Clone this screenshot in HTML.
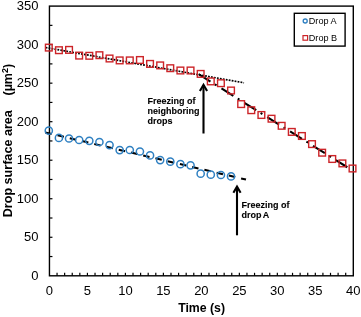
<!DOCTYPE html><html><head><meta charset="utf-8"><style>html,body{margin:0;padding:0;background:#fff;width:361px;height:317px;overflow:hidden}svg{display:block;will-change:transform;font-family:"Liberation Sans",sans-serif}</style></head><body>
<svg width="361" height="317" viewBox="0 0 361 317">
<line x1="57.05" y1="275.80" x2="57.05" y2="272.80" stroke="#000" stroke-width="1.2"/>
<line x1="64.64" y1="275.80" x2="64.64" y2="272.80" stroke="#000" stroke-width="1.2"/>
<line x1="72.24" y1="275.80" x2="72.24" y2="272.80" stroke="#000" stroke-width="1.2"/>
<line x1="79.84" y1="275.80" x2="79.84" y2="272.80" stroke="#000" stroke-width="1.2"/>
<line x1="87.43" y1="275.80" x2="87.43" y2="272.80" stroke="#000" stroke-width="1.2"/>
<line x1="95.03" y1="275.80" x2="95.03" y2="272.80" stroke="#000" stroke-width="1.2"/>
<line x1="102.62" y1="275.80" x2="102.62" y2="272.80" stroke="#000" stroke-width="1.2"/>
<line x1="110.22" y1="275.80" x2="110.22" y2="272.80" stroke="#000" stroke-width="1.2"/>
<line x1="117.82" y1="275.80" x2="117.82" y2="272.80" stroke="#000" stroke-width="1.2"/>
<line x1="125.41" y1="275.80" x2="125.41" y2="272.80" stroke="#000" stroke-width="1.2"/>
<line x1="133.01" y1="275.80" x2="133.01" y2="272.80" stroke="#000" stroke-width="1.2"/>
<line x1="140.61" y1="275.80" x2="140.61" y2="272.80" stroke="#000" stroke-width="1.2"/>
<line x1="148.20" y1="275.80" x2="148.20" y2="272.80" stroke="#000" stroke-width="1.2"/>
<line x1="155.80" y1="275.80" x2="155.80" y2="272.80" stroke="#000" stroke-width="1.2"/>
<line x1="163.39" y1="275.80" x2="163.39" y2="272.80" stroke="#000" stroke-width="1.2"/>
<line x1="170.99" y1="275.80" x2="170.99" y2="272.80" stroke="#000" stroke-width="1.2"/>
<line x1="178.59" y1="275.80" x2="178.59" y2="272.80" stroke="#000" stroke-width="1.2"/>
<line x1="186.18" y1="275.80" x2="186.18" y2="272.80" stroke="#000" stroke-width="1.2"/>
<line x1="193.78" y1="275.80" x2="193.78" y2="272.80" stroke="#000" stroke-width="1.2"/>
<line x1="201.38" y1="275.80" x2="201.38" y2="272.80" stroke="#000" stroke-width="1.2"/>
<line x1="208.97" y1="275.80" x2="208.97" y2="272.80" stroke="#000" stroke-width="1.2"/>
<line x1="216.57" y1="275.80" x2="216.57" y2="272.80" stroke="#000" stroke-width="1.2"/>
<line x1="224.16" y1="275.80" x2="224.16" y2="272.80" stroke="#000" stroke-width="1.2"/>
<line x1="231.76" y1="275.80" x2="231.76" y2="272.80" stroke="#000" stroke-width="1.2"/>
<line x1="239.36" y1="275.80" x2="239.36" y2="272.80" stroke="#000" stroke-width="1.2"/>
<line x1="246.95" y1="275.80" x2="246.95" y2="272.80" stroke="#000" stroke-width="1.2"/>
<line x1="254.55" y1="275.80" x2="254.55" y2="272.80" stroke="#000" stroke-width="1.2"/>
<line x1="262.15" y1="275.80" x2="262.15" y2="272.80" stroke="#000" stroke-width="1.2"/>
<line x1="269.74" y1="275.80" x2="269.74" y2="272.80" stroke="#000" stroke-width="1.2"/>
<line x1="277.34" y1="275.80" x2="277.34" y2="272.80" stroke="#000" stroke-width="1.2"/>
<line x1="284.93" y1="275.80" x2="284.93" y2="272.80" stroke="#000" stroke-width="1.2"/>
<line x1="292.53" y1="275.80" x2="292.53" y2="272.80" stroke="#000" stroke-width="1.2"/>
<line x1="300.13" y1="275.80" x2="300.13" y2="272.80" stroke="#000" stroke-width="1.2"/>
<line x1="307.72" y1="275.80" x2="307.72" y2="272.80" stroke="#000" stroke-width="1.2"/>
<line x1="315.32" y1="275.80" x2="315.32" y2="272.80" stroke="#000" stroke-width="1.2"/>
<line x1="322.92" y1="275.80" x2="322.92" y2="272.80" stroke="#000" stroke-width="1.2"/>
<line x1="330.51" y1="275.80" x2="330.51" y2="272.80" stroke="#000" stroke-width="1.2"/>
<line x1="338.11" y1="275.80" x2="338.11" y2="272.80" stroke="#000" stroke-width="1.2"/>
<line x1="345.70" y1="275.80" x2="345.70" y2="272.80" stroke="#000" stroke-width="1.2"/>
<line x1="49.45" y1="256.54" x2="52.45" y2="256.54" stroke="#000" stroke-width="1.2"/>
<line x1="49.45" y1="237.27" x2="52.45" y2="237.27" stroke="#000" stroke-width="1.2"/>
<line x1="49.45" y1="218.01" x2="52.45" y2="218.01" stroke="#000" stroke-width="1.2"/>
<line x1="49.45" y1="198.74" x2="52.45" y2="198.74" stroke="#000" stroke-width="1.2"/>
<line x1="49.45" y1="179.48" x2="52.45" y2="179.48" stroke="#000" stroke-width="1.2"/>
<line x1="49.45" y1="160.21" x2="52.45" y2="160.21" stroke="#000" stroke-width="1.2"/>
<line x1="49.45" y1="140.95" x2="52.45" y2="140.95" stroke="#000" stroke-width="1.2"/>
<line x1="49.45" y1="121.69" x2="52.45" y2="121.69" stroke="#000" stroke-width="1.2"/>
<line x1="49.45" y1="102.42" x2="52.45" y2="102.42" stroke="#000" stroke-width="1.2"/>
<line x1="49.45" y1="83.16" x2="52.45" y2="83.16" stroke="#000" stroke-width="1.2"/>
<line x1="49.45" y1="63.89" x2="52.45" y2="63.89" stroke="#000" stroke-width="1.2"/>
<line x1="49.45" y1="44.63" x2="52.45" y2="44.63" stroke="#000" stroke-width="1.2"/>
<line x1="49.45" y1="25.36" x2="52.45" y2="25.36" stroke="#000" stroke-width="1.2"/>
<rect x="49.45" y="6.1" width="303.85" height="269.70" fill="none" stroke="#000" stroke-width="1.4"/>
<text x="38.4" y="279.80" font-size="13" text-anchor="end" fill="#000">0</text>
<text x="38.4" y="241.27" font-size="13" text-anchor="end" fill="#000">50</text>
<text x="38.4" y="202.74" font-size="13" text-anchor="end" fill="#000">100</text>
<text x="38.4" y="164.21" font-size="13" text-anchor="end" fill="#000">150</text>
<text x="38.4" y="125.69" font-size="13" text-anchor="end" fill="#000">200</text>
<text x="38.4" y="87.16" font-size="13" text-anchor="end" fill="#000">250</text>
<text x="38.4" y="48.63" font-size="13" text-anchor="end" fill="#000">300</text>
<text x="38.4" y="10.10" font-size="13" text-anchor="end" fill="#000">350</text>
<text x="49.45" y="295.0" font-size="13" text-anchor="middle" fill="#000">0</text>
<text x="87.43" y="295.0" font-size="13" text-anchor="middle" fill="#000">5</text>
<text x="125.41" y="295.0" font-size="13" text-anchor="middle" fill="#000">10</text>
<text x="163.39" y="295.0" font-size="13" text-anchor="middle" fill="#000">15</text>
<text x="201.38" y="295.0" font-size="13" text-anchor="middle" fill="#000">20</text>
<text x="239.36" y="295.0" font-size="13" text-anchor="middle" fill="#000">25</text>
<text x="277.34" y="295.0" font-size="13" text-anchor="middle" fill="#000">30</text>
<text x="315.32" y="295.0" font-size="13" text-anchor="middle" fill="#000">35</text>
<text x="353.30" y="295.0" font-size="13" text-anchor="middle" fill="#000">40</text>
<text x="201.6" y="312" font-size="12.3" font-weight="bold" text-anchor="middle" fill="#000">Time (s)</text>
<text transform="translate(12.2,217.3) rotate(-90)" x="0" y="0" font-size="12.6" font-weight="bold" fill="#000">Drop surface area</text>
<text transform="translate(12.2,95.5) rotate(-90)" x="0" y="0" font-size="12.5" font-weight="bold" fill="#000">(µm<tspan font-size="9" dy="-4.2">2</tspan><tspan dy="4.2">)</tspan></text>
<line x1="45.30" y1="132.41" x2="246.00" y2="179.58" stroke="#000" stroke-width="2.1" stroke-dasharray="6.5 6.07" stroke-dashoffset="0"/>
<line x1="45.60" y1="47.51" x2="244.00" y2="82.82" stroke="#000" stroke-width="1.7" stroke-dasharray="1.8 1.2" stroke-dashoffset="0"/>
<line x1="198.6" y1="74.1" x2="347.30" y2="167.26" stroke="#000" stroke-width="2.1" stroke-dasharray="14 5.2 2 5.8"/>
<rect x="45.45" y="44.25" width="6.7" height="6.7" fill="none" stroke="#cc2428" stroke-width="1.4"/>
<rect x="55.57" y="46.85" width="6.7" height="6.7" fill="none" stroke="#cc2428" stroke-width="1.4"/>
<rect x="65.70" y="46.55" width="6.7" height="6.7" fill="none" stroke="#cc2428" stroke-width="1.4"/>
<rect x="75.82" y="52.25" width="6.7" height="6.7" fill="none" stroke="#cc2428" stroke-width="1.4"/>
<rect x="85.95" y="52.45" width="6.7" height="6.7" fill="none" stroke="#cc2428" stroke-width="1.4"/>
<rect x="96.07" y="51.85" width="6.7" height="6.7" fill="none" stroke="#cc2428" stroke-width="1.4"/>
<rect x="106.19" y="55.15" width="6.7" height="6.7" fill="none" stroke="#cc2428" stroke-width="1.4"/>
<rect x="116.32" y="57.05" width="6.7" height="6.7" fill="none" stroke="#cc2428" stroke-width="1.4"/>
<rect x="126.44" y="57.05" width="6.7" height="6.7" fill="none" stroke="#cc2428" stroke-width="1.4"/>
<rect x="136.57" y="56.65" width="6.7" height="6.7" fill="none" stroke="#cc2428" stroke-width="1.4"/>
<rect x="146.69" y="60.55" width="6.7" height="6.7" fill="none" stroke="#cc2428" stroke-width="1.4"/>
<rect x="156.81" y="62.05" width="6.7" height="6.7" fill="none" stroke="#cc2428" stroke-width="1.4"/>
<rect x="166.94" y="64.85" width="6.7" height="6.7" fill="none" stroke="#cc2428" stroke-width="1.4"/>
<rect x="177.06" y="67.15" width="6.7" height="6.7" fill="none" stroke="#cc2428" stroke-width="1.4"/>
<rect x="187.19" y="67.15" width="6.7" height="6.7" fill="none" stroke="#cc2428" stroke-width="1.4"/>
<rect x="197.31" y="70.55" width="6.7" height="6.7" fill="none" stroke="#cc2428" stroke-width="1.4"/>
<rect x="207.43" y="78.05" width="6.7" height="6.7" fill="none" stroke="#cc2428" stroke-width="1.4"/>
<rect x="217.56" y="79.85" width="6.7" height="6.7" fill="none" stroke="#cc2428" stroke-width="1.4"/>
<rect x="227.68" y="87.15" width="6.7" height="6.7" fill="none" stroke="#cc2428" stroke-width="1.4"/>
<rect x="237.81" y="100.75" width="6.7" height="6.7" fill="none" stroke="#cc2428" stroke-width="1.4"/>
<rect x="247.93" y="106.85" width="6.7" height="6.7" fill="none" stroke="#cc2428" stroke-width="1.4"/>
<rect x="258.05" y="111.65" width="6.7" height="6.7" fill="none" stroke="#cc2428" stroke-width="1.4"/>
<rect x="268.18" y="115.35" width="6.7" height="6.7" fill="none" stroke="#cc2428" stroke-width="1.4"/>
<rect x="278.30" y="122.45" width="6.7" height="6.7" fill="none" stroke="#cc2428" stroke-width="1.4"/>
<rect x="288.43" y="128.55" width="6.7" height="6.7" fill="none" stroke="#cc2428" stroke-width="1.4"/>
<rect x="298.55" y="132.65" width="6.7" height="6.7" fill="none" stroke="#cc2428" stroke-width="1.4"/>
<rect x="308.67" y="140.75" width="6.7" height="6.7" fill="none" stroke="#cc2428" stroke-width="1.4"/>
<rect x="318.80" y="149.35" width="6.7" height="6.7" fill="none" stroke="#cc2428" stroke-width="1.4"/>
<rect x="328.92" y="155.65" width="6.7" height="6.7" fill="none" stroke="#cc2428" stroke-width="1.4"/>
<rect x="339.05" y="160.05" width="6.7" height="6.7" fill="none" stroke="#cc2428" stroke-width="1.4"/>
<rect x="349.17" y="165.15" width="6.7" height="6.7" fill="none" stroke="#cc2428" stroke-width="1.4"/>
<circle cx="48.80" cy="130.70" r="3.6" fill="none" stroke="#2f80c2" stroke-width="1.5"/>
<circle cx="58.92" cy="137.90" r="3.6" fill="none" stroke="#2f80c2" stroke-width="1.5"/>
<circle cx="69.05" cy="138.50" r="3.6" fill="none" stroke="#2f80c2" stroke-width="1.5"/>
<circle cx="79.17" cy="140.00" r="3.6" fill="none" stroke="#2f80c2" stroke-width="1.5"/>
<circle cx="89.30" cy="140.80" r="3.6" fill="none" stroke="#2f80c2" stroke-width="1.5"/>
<circle cx="99.42" cy="142.00" r="3.6" fill="none" stroke="#2f80c2" stroke-width="1.5"/>
<circle cx="109.54" cy="145.10" r="3.6" fill="none" stroke="#2f80c2" stroke-width="1.5"/>
<circle cx="119.67" cy="150.10" r="3.6" fill="none" stroke="#2f80c2" stroke-width="1.5"/>
<circle cx="129.79" cy="150.00" r="3.6" fill="none" stroke="#2f80c2" stroke-width="1.5"/>
<circle cx="139.92" cy="151.50" r="3.6" fill="none" stroke="#2f80c2" stroke-width="1.5"/>
<circle cx="150.04" cy="155.40" r="3.6" fill="none" stroke="#2f80c2" stroke-width="1.5"/>
<circle cx="160.16" cy="160.10" r="3.6" fill="none" stroke="#2f80c2" stroke-width="1.5"/>
<circle cx="170.29" cy="161.70" r="3.6" fill="none" stroke="#2f80c2" stroke-width="1.5"/>
<circle cx="180.41" cy="164.20" r="3.6" fill="none" stroke="#2f80c2" stroke-width="1.5"/>
<circle cx="190.54" cy="165.30" r="3.6" fill="none" stroke="#2f80c2" stroke-width="1.5"/>
<circle cx="200.66" cy="173.70" r="3.6" fill="none" stroke="#2f80c2" stroke-width="1.5"/>
<circle cx="210.78" cy="174.70" r="3.6" fill="none" stroke="#2f80c2" stroke-width="1.5"/>
<circle cx="220.91" cy="175.00" r="3.6" fill="none" stroke="#2f80c2" stroke-width="1.5"/>
<circle cx="231.03" cy="176.40" r="3.6" fill="none" stroke="#2f80c2" stroke-width="1.5"/>
<line x1="203.5" y1="133.5" x2="203.5" y2="85" stroke="#000" stroke-width="2.1"/>
<polyline points="199.9,91.0 203.5,84.8 207.1,91.0" fill="none" stroke="#000" stroke-width="2.1" stroke-linejoin="miter"/>
<line x1="237.0" y1="235.3" x2="237.0" y2="187" stroke="#000" stroke-width="2.1"/>
<polyline points="233.4,192.8 237.0,186.6 240.6,192.8" fill="none" stroke="#000" stroke-width="2.1" stroke-linejoin="miter"/>
<text x="147.5" y="104.1" font-size="9" font-weight="bold" fill="#000" stroke="#000" stroke-width="0.1">Freezing of</text>
<text x="147.5" y="114.1" font-size="9" font-weight="bold" fill="#000" stroke="#000" stroke-width="0.1">neighboring</text>
<text x="147.5" y="124" font-size="9" font-weight="bold" fill="#000" stroke="#000" stroke-width="0.1">drops</text>
<text x="241.5" y="208.1" font-size="9" font-weight="bold" fill="#000" stroke="#000" stroke-width="0.1">Freezing of</text>
<text x="241.5" y="218.2" font-size="9" font-weight="bold" fill="#000" stroke="#000" stroke-width="0.1" word-spacing="-0.8">drop A</text>
<rect x="294.3" y="13.3" width="50.8" height="32.8" fill="#fff" stroke="#000" stroke-width="1.4"/>
<circle cx="305.2" cy="21.0" r="2.0" fill="none" stroke="#2f80c2" stroke-width="1.35"/>
<rect x="303.0" y="35.6" width="4.6" height="4.6" fill="none" stroke="#cc2428" stroke-width="1.2"/>
<text x="308.8" y="24.4" font-size="9.1" fill="#000">Drop A</text>
<text x="308.8" y="41.4" font-size="9.1" fill="#000">Drop B</text>
</svg></body></html>
